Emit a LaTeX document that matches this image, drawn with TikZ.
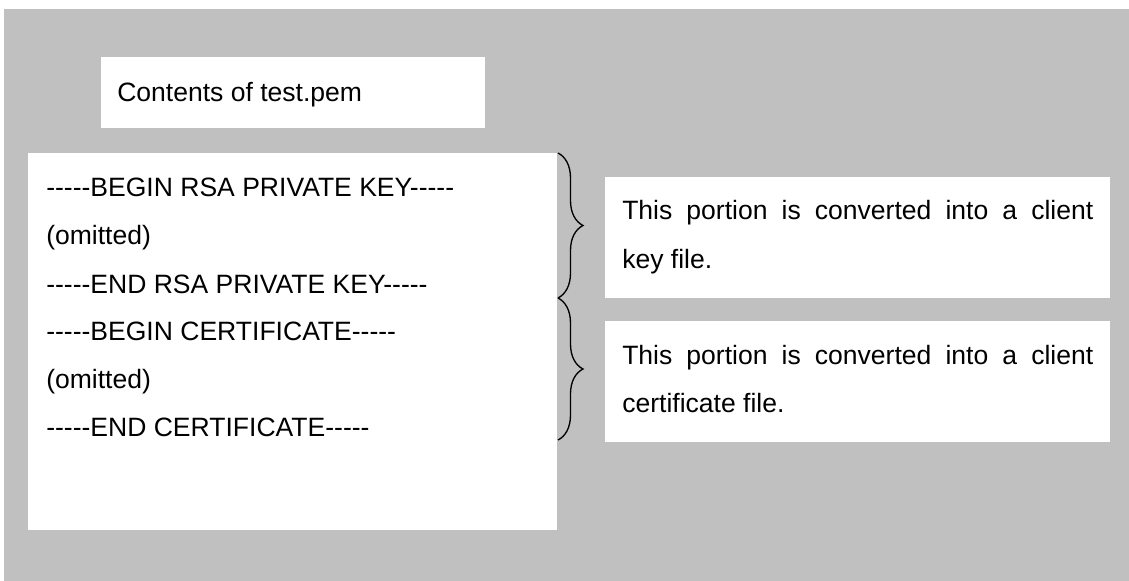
\documentclass[tikz,border=0pt]{standalone}
\usepackage{fontspec}
\setmainfont{Liberation Sans}
\usetikzlibrary{decorations.pathreplacing}
\definecolor{bggray}{RGB}{192,192,192}
\begin{document}
\begin{tikzpicture}[x=0.75pt,y=-0.75pt,
  panel/.style={fill=white,draw=none},
  txt/.style={anchor=base west,inner sep=0pt,font=\fontsize{19.9}{36}\selectfont},
  bracepath/.style={decorate,decoration={brace,amplitude=18.75pt},line width=1pt}]
\useasboundingbox (0,0) rectangle (1129,581);
\fill[bggray] (4,9) rectangle (1129,581);
% boxes
\path[panel] (101,57) rectangle (485,128);
\path[panel] (28,153) rectangle (557,530);
\path[panel] (605,177) rectangle (1110,298);
\path[panel] (605,321) rectangle (1110,442);
% title
\node[txt] (title) at (117,102) {Contents of test.pem};
% pem lines
\node[txt] (l1) at (46,197) {-{}-{}-{}-{}-BEGIN RSA PRIVATE KEY-{}-{}-{}-{}-};
\node[txt] (l2) at (46,245) {(omitted)};
\node[txt] (l3) at (46,293) {-{}-{}-{}-{}-END RSA PRIVATE KEY-{}-{}-{}-{}-};
\node[txt] (l4) at (46,340) {-{}-{}-{}-{}-BEGIN CERTIFICATE-{}-{}-{}-{}-};
\node[txt] (l5) at (46,388) {(omitted)};
\node[txt] (l6) at (46,436) {-{}-{}-{}-{}-END CERTIFICATE-{}-{}-{}-{}-};
% braces
\coordinate (b1top) at (558,153);
\coordinate (b1bot) at (558,298);
\coordinate (b2top) at (558,298);
\coordinate (b2bot) at (558,440);
\draw[bracepath] (b1top) -- (b1bot);
\draw[bracepath] (b2top) -- (b2bot);
% descriptions
\node[txt] (d1a) at (622,220) {\makebox[353.25pt][s]{This portion is converted into a client}};
\node[txt] (d1b) at (622,268) {key file.};
\node[txt] (d2a) at (622,364) {\makebox[353.25pt][s]{This portion is converted into a client}};
\node[txt] (d2b) at (622,412) {certificate file.};
\end{tikzpicture}
\end{document}
